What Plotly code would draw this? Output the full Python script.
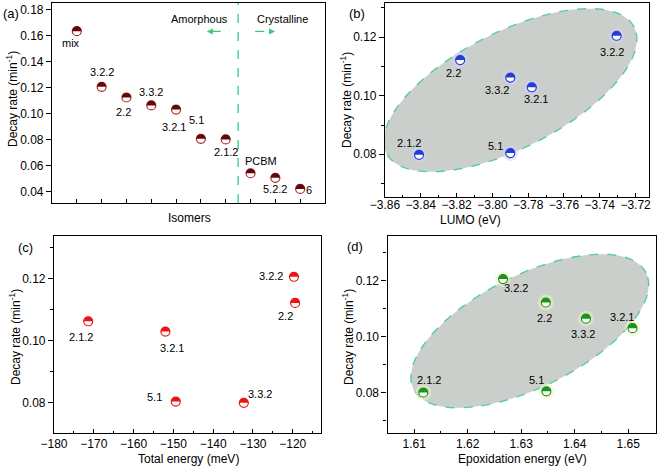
import math
import plotly.graph_objects as go

# ---------------- data ----------------
isomers_a = ["mix", "3.2.2", "2.2", "3.3.2", "3.2.1", "5.1", "2.1.2", "PCBM", "5.2.2", "6"]
rate_a = [0.1635, 0.1207, 0.1125, 0.1064, 0.1032, 0.0807, 0.0802, 0.0542, 0.0507, 0.0421]

labels_b = ["2.1.2", "2.2", "3.3.2", "3.2.1", "5.1", "3.2.2"]
lumo_b = [-3.841, -3.818, -3.790, -3.778, -3.790, -3.7306]
rate_b = [0.0798, 0.1122, 0.1062, 0.1029, 0.0804, 0.1205]

labels_c = ["2.1.2", "3.2.1", "5.1", "3.3.2", "3.2.2", "2.2"]
energy_c = [-171.4, -152.0, -149.4, -132.3, -119.7, -119.4]
rate_c = [0.1062, 0.1029, 0.0804, 0.0800, 0.1205, 0.1121]

labels_d = ["2.1.2", "3.2.2", "2.2", "5.1", "3.3.2", "3.2.1"]
epox_d = [1.6117, 1.6266, 1.6346, 1.6347, 1.6421, 1.6508]
rate_d = [0.0800, 0.1206, 0.1122, 0.0804, 0.1064, 0.1030]

# ---------------- label offsets (px: dx right, dy down) ----------------
off_a = [(-6, 12), (0, -15), (-3, 15), (0, -13), (-2, 17), (-4, -19), (0, 13), (10, -12), (0, 11), (9, 1)]
off_b = [(-10, -12), (-7, 13), (-13, 12), (4, 12), (-15, -7), (-5, 16)]
off_c = [(-7, 16), (7, 16), (-21, -5), (16, -9), (-23, -1), (-10, 13)]
off_d = [(6, -12), (13, 9), (-1, 15), (-10, -11), (-3, 15), (-11, -11)]

FONT = "Liberation Sans, Arial, sans-serif"
W, H = 658, 468

fig = go.Figure()
shapes = []
annotations = []


def dom_x(p0, p1):
    return [p0 / W, p1 / W]


def dom_y(top, bottom):
    return [1 - bottom / H, 1 - top / H]


def add_points(xs, ys, xref, yref, top_col, rim_col, glow=None):
    if glow is not None:
        fig.add_trace(go.Scatter(x=xs, y=ys, mode="markers", xaxis=xref, yaxis=yref,
                                 marker=dict(size=16, color=glow, line=dict(width=0)),
                                 hoverinfo="skip", showlegend=False))
    fig.add_trace(go.Scatter(x=xs, y=ys, mode="markers", xaxis=xref, yaxis=yref,
                             marker=dict(size=9, color="white", line=dict(width=1.2, color=rim_col)),
                             showlegend=False))
    r = 4.6
    k = 0.5523
    path = (f"M {-r},0 C {-r},{k*r} {-k*r},{r} 0,{r} "
            f"C {k*r},{r} {r},{k*r} {r},0 Z")
    for xv, yv in zip(xs, ys):
        shapes.append(dict(type="path", xref=xref, yref=yref,
                           xsizemode="pixel", ysizemode="pixel",
                           xanchor=xv, yanchor=yv, path=path,
                           fillcolor=top_col, line=dict(width=0), layer="above"))


def add_labels(xs, ys, texts, offs, xref, yref):
    for xv, yv, t, (dx, dy) in zip(xs, ys, texts, offs):
        annotations.append(dict(x=xv, y=yv, xref=xref, yref=yref, text=t, showarrow=False,
                                xanchor="center", yanchor="middle",
                                xshift=dx, yshift=-dy, font=dict(size=11, color="black")))


def add_ellipse(xref, yref, xc, yc, a, b, theta_deg, n=90):
    th = math.radians(theta_deg)
    pts = []
    for i in range(n):
        t = 2 * math.pi * i / n
        px = a * math.cos(t) * math.cos(th) - b * math.sin(t) * math.sin(th)
        py = a * math.cos(t) * math.sin(th) + b * math.sin(t) * math.cos(th)
        pts.append(f"{px:.2f},{py:.2f}")
    path = "M " + " L ".join(pts) + " Z"
    shapes.append(dict(type="path", xref=xref, yref=yref, xsizemode="pixel", ysizemode="pixel",
                       xanchor=xc, yanchor=yc, path=path, fillcolor="rgb(203,207,203)",
                       line=dict(color="rgb(85,205,160)", width=1.4, dash="dash"), layer="below"))


# ---------------- panel (a) ----------------
xa = list(range(len(isomers_a)))
add_points(xa, rate_a, "x", "y", "rgb(95,8,12)", "rgb(170,40,40)")
add_labels(xa, rate_a, isomers_a, off_a, "x", "y")
shapes.append(dict(type="line", xref="x", yref="y domain", x0=6.5, x1=6.5, y0=0, y1=1,
                   line=dict(color="rgb(60,210,150)", width=1.4, dash="dash"), layer="below"))
# arrows (dashed shafts + small triangular heads)
GREEN = "rgb(60,200,120)"
shapes.append(dict(type="line", xref="x domain", yref="y domain", x0=0.585, x1=0.652, y0=0.858, y1=0.858,
                   line=dict(color=GREEN, width=1.3, dash="dash")))
shapes.append(dict(type="line", xref="x domain", yref="y domain", x0=0.744, x1=0.800, y0=0.858, y1=0.858,
                   line=dict(color=GREEN, width=1.3, dash="dash")))
shapes.append(dict(type="path", xref="x domain", yref="y domain", xsizemode="pixel", ysizemode="pixel",
                   xanchor=0.567, yanchor=0.858, path="M 0,0 L 6,3 L 6,-3 Z",
                   fillcolor=GREEN, line=dict(width=0)))
shapes.append(dict(type="path", xref="x domain", yref="y domain", xsizemode="pixel", ysizemode="pixel",
                   xanchor=0.817, yanchor=0.858, path="M 0,0 L -6,3 L -6,-3 Z",
                   fillcolor=GREEN, line=dict(width=0)))
annotations.append(dict(x=0.540, y=0.92, xref="x domain", yref="y domain", text="Amorphous",
                        xanchor="center", yanchor="middle",
                        showarrow=False, font=dict(size=11, color="black")))
annotations.append(dict(x=0.845, y=0.92, xref="x domain", yref="y domain", text="Crystalline",
                        xanchor="center", yanchor="middle",
                        showarrow=False, font=dict(size=11, color="black")))

# ---------------- panel (b) ----------------
add_ellipse("x2", "y2", -3.790, 0.1019, 139, 58, 27)
add_points(lumo_b, rate_b, "x2", "y2", "rgb(35,60,215)", "rgb(35,60,215)", glow="rgba(205,210,250,0.5)")
add_labels(lumo_b, rate_b, labels_b, off_b, "x2", "y2")

# ---------------- panel (c) ----------------
add_points(energy_c, rate_c, "x3", "y3", "rgb(235,20,20)", "rgb(235,20,20)")
add_labels(energy_c, rate_c, labels_c, off_c, "x3", "y3")

# ---------------- panel (d) ----------------
add_ellipse("x4", "y4", 1.6316, 0.1020, 130, 56, 26.6)
add_points(epox_d, rate_d, "x4", "y4", "rgb(25,150,25)", "rgb(25,150,25)", glow="rgba(240,245,195,0.5)")
add_labels(epox_d, rate_d, labels_d, off_d, "x4", "y4")

# ---------------- axis titles & panel tags ----------------
def ann_px(x, y, text, size=12, angle=0):
    annotations.append(dict(x=x / W, y=1 - y / H, xref="paper", yref="paper", text=text,
                            showarrow=False, textangle=angle, font=dict(size=size, color="black"),
                            xanchor="center", yanchor="middle"))

ytitle = "Decay rate (min<sup>-1</sup>)"
ann_px(189, 218, "Isomers")
ann_px(12, 99, ytitle, angle=-90)
ann_px(471, 220, "LUMO (eV)")
ann_px(346, 100, ytitle, angle=-90)
ann_px(188, 459, "Total energy (meV)")
ann_px(15, 337, ytitle, angle=-90)
ann_px(522, 459, "Epoxidation energy (eV)")
ann_px(348, 337, ytitle, angle=-90)
ann_px(11, 13, "(a)", size=13)
ann_px(357, 13, "(b)", size=13)
ann_px(25, 247, "(c)", size=13)
ann_px(355, 246, "(d)", size=13)

# ---------------- axes ----------------
common = dict(showline=True, linecolor="black", linewidth=1.2, mirror=True, showgrid=False,
              zeroline=False, automargin=False,
              tickfont=dict(size=12, color="black"), tickcolor="black")
xin = dict(ticks="inside", ticklen=4, tickwidth=1)
yout = dict(ticks="outside", ticklen=5, tickwidth=1)


def minor_x(d):
    return dict(ticks="inside", ticklen=2, dtick=d, tickcolor="black", tickwidth=1)


def minor_y(d):
    return dict(ticks="outside", ticklen=3, dtick=d, tickcolor="black", tickwidth=1)


fig.update_layout(
    width=W, height=H, margin=dict(l=0, r=0, t=0, b=0, autoexpand=False),
    paper_bgcolor="white", plot_bgcolor="white",
    font=dict(family=FONT, color="black", size=12),
    showlegend=False,
    xaxis=dict(domain=dom_x(52, 325), anchor="y", range=[-1, 10], tickvals=xa,
               showticklabels=False, **common, **xin),
    yaxis=dict(domain=dom_y(3, 203), anchor="x", range=[0.0313, 0.1852], tick0=0.04, dtick=0.02,
               tickformat=".2f", **common, **yout),
    xaxis2=dict(domain=dom_x(385, 649), anchor="y2", range=[-3.86, -3.7125], tick0=-3.86, dtick=0.02,
                tickformat=".2f", minor=minor_x(0.01), ticklabelstandoff=-4, **common, **xin),
    yaxis2=dict(domain=dom_y(3, 197), anchor="x2", range=[0.0654, 0.1317], tick0=0.08, dtick=0.02,
                tickformat=".2f", minor=minor_y(0.01), **common, **yout),
    xaxis3=dict(domain=dom_x(54, 321), anchor="y3", range=[-180, -112.9], tick0=-180, dtick=10,
                minor=minor_x(5), ticklabelstandoff=-1, **common, **xin),
    yaxis3=dict(domain=dom_y(236, 433), anchor="x3", range=[0.0703, 0.1336], tick0=0.08, dtick=0.02,
                tickformat=".2f", minor=minor_y(0.01), **common, **yout),
    xaxis4=dict(domain=dom_x(387.5, 655.5), anchor="y4", range=[1.605, 1.6551], tick0=1.61, dtick=0.01,
                tickformat=".2f", minor=minor_x(0.005), ticklabelstandoff=-1, **common, **xin),
    yaxis4=dict(domain=dom_y(236, 433), anchor="x4", range=[0.0655, 0.136], tick0=0.08, dtick=0.02,
                tickformat=".2f", minor=minor_y(0.01), **common, **yout),
    shapes=shapes, annotations=annotations,
)

fig.write_html("out.html")
